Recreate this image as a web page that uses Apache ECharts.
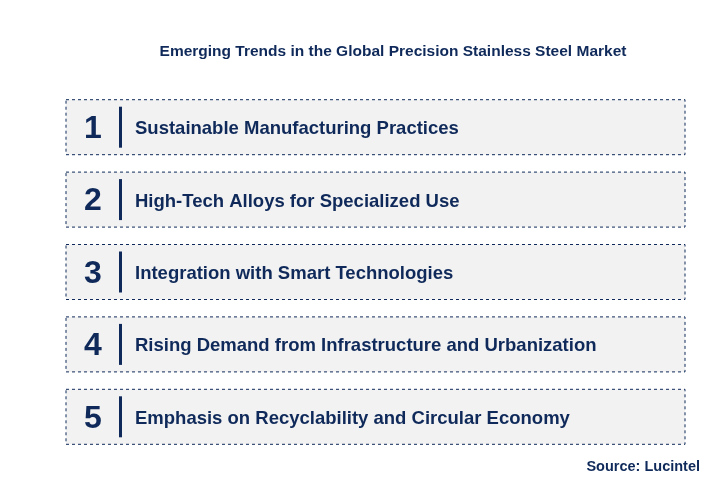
<!DOCTYPE html>
<html><head><meta charset="utf-8">
<script src="https://cdn.jsdelivr.net/npm/echarts@6/dist/echarts.min.js"></script>
<style>html,body{margin:0;padding:0;background:#fff}#c{width:712px;height:501px}</style>
</head><body><div id="c"></div>
<script>
const numbers = ['1','2','3','4','5'];
const trends = [
  'Sustainable Manufacturing Practices',
  'High-Tech Alloys for Specialized Use',
  'Integration with Smart Technologies',
  'Rising Demand from Infrastructure and Urbanization',
  'Emphasis on Recyclability and Circular Economy'
];
const title = 'Emerging Trends in the Global Precision Stainless Steel Market';
const source = 'Source: Lucintel';
const navy = '#0f2a5a';
const chart = echarts.init(document.getElementById('c'));
chart.setOption({
  animation:false,
  title:{text:title,left:388,top:39,textAlign:'center',textStyle:{fontFamily:'Liberation Sans',fontSize:15.5,fontWeight:'bold',color:navy}},
  graphic:[{type:'text',right:12,top:459,style:{text:source,font:'bold 14.5px "Liberation Sans"',fill:navy}}],
  grid:{left:66,right:27,top:91,height:362},
  xAxis:{type:'value',min:0,max:1,show:false},
  yAxis:{type:'category',data:numbers,inverse:true,show:false},
  series:[{
    type:'custom',
    data:numbers.map((n,i)=>[0,i]),
    renderItem:function(params,api){
      const i=api.value(1);
      const c=api.coord([0,i]);
      const c2=api.coord([1,i]);
      const h=55, x=c[0], w=c2[0]-c[0], y=c[1]-h/2;
      return {type:'group',children:[
        {type:'rect',shape:{x:x,y:y,width:w,height:h},style:{fill:'#f2f2f2',stroke:navy,lineWidth:1,lineDash:[3,3]}},
        {type:'text',style:{x:x+27,y:c[1]+2,text:numbers[i],font:'bold 32px "Liberation Sans"',fill:navy,align:'center',verticalAlign:'middle'}},
        {type:'rect',shape:{x:x+53,y:y+7,width:3,height:h-14},style:{fill:navy}},
        {type:'text',style:{x:x+69,y:c[1]+2,text:trends[i],font:'bold 18.5px "Liberation Sans"',fill:navy,verticalAlign:'middle'}}
      ]};
    }
  }]
});
</script></body></html>
